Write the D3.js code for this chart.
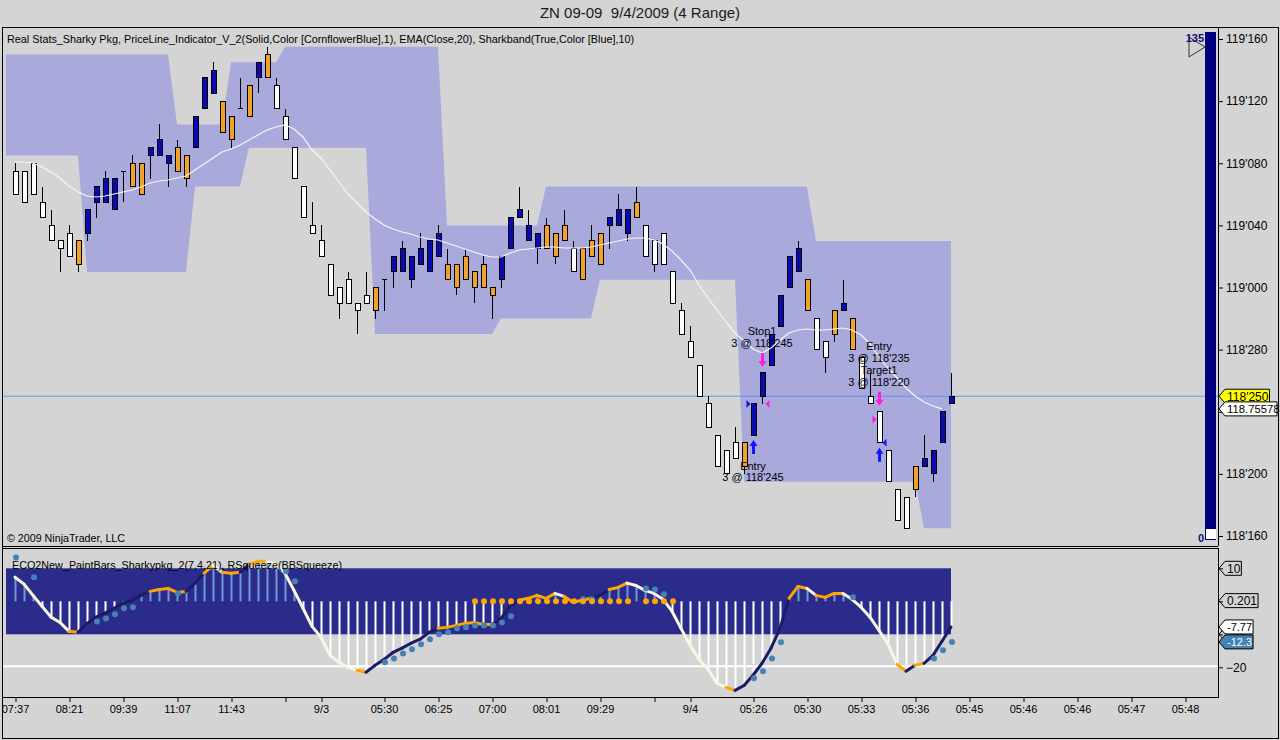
<!DOCTYPE html>
<html>
<head>
<meta charset="utf-8">
<script src="https://cdn.jsdelivr.net/npm/d3@7"></script>
<style>
body { margin: 0; background: #d4d4d4; }
svg { display: block; font-family: "Liberation Sans", Arial, sans-serif; }
</style>
</head>
<body>
<svg id="chart" width="1280" height="740"></svg>
<script>
// ZN 09-09, 4 range bars. Prices are quoted in 32nds like the chart does (119'075 = 119 + 7.5/32)
var open = [
  "119'075","119'075","119'080","119'055","119'040","119'030","119'035","119'015","119'035","119'055",
  "119'055","119'050","119'075","119'065","119'060","119'085","119'085","119'080","119'075","119'085",
  "119'090","119'115","119'125","119'120","119'110","119'115","119'110","119'135","119'135","119'130",
  "119'110","119'090","119'065","119'040","119'030","119'015","119'000","119'005","118'310","118'315",
  "118'305","119'005","119'010","119'010","119'005","119'015","119'010","119'020","119'015","119'015",
  "119'005","119'010","119'000","119'000","119'005","119'025","119'045","119'030","119'025","119'025",
  "119'035","119'030","119'025","119'025","119'020","119'015","119'040","119'040","119'035","119'045",
  "119'040","119'030","119'035","119'010","118'305","118'285","118'270","118'245","118'225","118'215",
  "118'220","118'205","118'225","118'250","118'270","118'295","119'000","119'010","119'005","118'300",
  "118'285","118'290","118'305","118'300","118'275","118'250","118'240","118'215","118'190","118'185",
  "118'190","118'205","118'200","118'220","118'245"];
var high = [
  "119'080","119'075","119'080","119'065","119'050","119'030","119'040","119'030","119'050","119'065",
  "119'075","119'070","119'075","119'085","119'080","119'090","119'105","119'085","119'095","119'085",
  "119'110","119'135","119'145","119'120","119'110","119'135","119'130","119'145","119'155","119'135",
  "119'115","119'090","119'065","119'055","119'040","119'015","119'000","119'010","118'310","119'010",
  "119'000","119'005","119'020","119'030","119'020","119'035","119'030","119'040","119'025","119'015",
  "119'025","119'010","119'020","119'000","119'020","119'045","119'065","119'050","119'035","119'045",
  "119'035","119'050","119'030","119'025","119'040","119'035","119'045","119'060","119'050","119'065",
  "119'040","119'030","119'035","119'010","118'310","118'295","118'270","118'250","118'225","118'215",
  "118'230","118'220","118'245","118'265","118'290","118'315","119'020","119'030","119'005","118'300",
  "118'285","118'305","119'005","118'300","118'275","118'265","118'240","118'215","118'190","118'185",
  "118'205","118'225","118'215","118'240","118'265"];
var low = [
  "119'060","119'055","119'060","119'045","119'030","119'010","119'020","119'010","119'030","119'045",
  "119'055","119'050","119'055","119'065","119'060","119'070","119'085","119'065","119'075","119'065",
  "119'090","119'115","119'125","119'100","119'090","119'115","119'110","119'125","119'135","119'115",
  "119'095","119'070","119'045","119'035","119'020","118'315","118'300","118'310","118'290","118'310",
  "118'300","118'305","119'000","119'010","119'000","119'015","119'010","119'020","119'005","118'315",
  "119'005","118'310","119'000","118'300","119'000","119'025","119'045","119'030","119'015","119'025",
  "119'015","119'030","119'010","119'005","119'020","119'015","119'025","119'040","119'030","119'045",
  "119'020","119'010","119'015","118'310","118'290","118'275","118'250","118'230","118'205","118'200",
  "118'210","118'200","118'225","118'245","118'270","118'295","119'000","119'010","118'305","118'280",
  "118'265","118'285","118'305","118'280","118'255","118'245","118'220","118'195","118'170","118'165",
  "118'185","118'205","118'195","118'220","118'245"];
var close = [
  "119'060","119'055","119'060","119'045","119'030","119'025","119'020","119'030","119'050","119'065",
  "119'070","119'070","119'075","119'080","119'080","119'090","119'095","119'085","119'090","119'070",
  "119'110","119'135","119'140","119'100","119'095","119'115","119'130","119'145","119'150","119'115",
  "119'095","119'070","119'045","119'035","119'020","118'315","118'310","118'310","118'305","118'310",
  "119'000","119'005","119'020","119'025","119'020","119'025","119'030","119'035","119'005","119'000",
  "119'020","119'000","119'015","118'315","119'020","119'045","119'050","119'040","119'035","119'040",
  "119'020","119'040","119'010","119'005","119'030","119'035","119'045","119'050","119'050","119'055",
  "119'020","119'015","119'015","118'310","118'290","118'275","118'250","118'230","118'205","118'200",
  "118'210","118'220","118'245","118'265","118'290","118'315","119'020","119'025","118'305","118'280",
  "118'275","118'305","118'310","118'280","118'255","118'245","118'220","118'195","118'170","118'165",
  "118'205","118'210","118'215","118'240","118'250"];
// paint bar state per bar: w = down, b = up, o = caution
var paint = ("wwwwwwwobbbbwoobbboobbboowobowwwwwwwwwwwowbbbbbboooooobbbbbooowooobbbo" +
             "wwwwwwwwwwwobbbbbbowwobowwwwwwobbbb").split("");

// EMA(Close,20), bars 1..104
var ema = [
  119.2525,119.2525,119.2505,119.2425,119.2324,119.2203,119.2042,119.1922,119.1841,119.1821,
  119.1841,119.1881,119.1922,119.1962,119.2022,119.2103,119.2143,119.2163,119.2203,119.2244,
  119.2364,119.2485,119.2606,119.2726,119.2787,119.2867,119.2968,119.3068,119.3169,119.3229,
  119.3270,119.3189,119.3028,119.2767,119.2606,119.2364,119.2123,119.1881,119.1700,119.1519,
  119.1378,119.1258,119.1177,119.1117,119.1076,119.1016,119.0976,119.0956,119.0895,119.0835,
  119.0775,119.0714,119.0654,119.0614,119.0614,119.0694,119.0755,119.0775,119.0795,119.0815,
  119.0815,119.0795,119.0795,119.0795,119.0815,119.0855,119.0895,119.0936,119.0976,119.0996,
  119.0996,119.0956,119.0875,119.0734,119.0553,119.0352,119.0050,118.9789,118.9547,118.9306,
  118.9085,118.8924,118.8763,118.8682,118.8783,118.8944,118.9085,118.9145,118.9165,118.9145,
  118.9145,118.9165,118.9185,118.9145,118.9044,118.8863,118.8602,118.8380,118.8179,118.7978,
  118.7817,118.7696,118.7616,118.75578];

// Sharkband(10), bars 0..105 (bar 0 sits just left of the first visible candle)
var bandUpper = [
  "119'150","119'150","119'150","119'150","119'150","119'150","119'150","119'150","119'150","119'150",
  "119'150","119'150","119'150","119'150","119'150","119'150","119'150","119'150","119'150","119'105",
  "119'105","119'105","119'105","119'105","119'105","119'145","119'145","119'145","119'145","119'145",
  "119'145","119'155","119'155","119'155","119'155","119'155","119'155","119'155","119'155","119'155",
  "119'155","119'155","119'155","119'155","119'155","119'155","119'155","119'155","119'155","119'040",
  "119'040","119'040","119'040","119'040","119'040","119'040","119'040","119'040","119'040","119'040",
  "119'065","119'065","119'065","119'065","119'065","119'065","119'065","119'065","119'065","119'065",
  "119'065","119'065","119'065","119'065","119'065","119'065","119'065","119'065","119'065","119'065",
  "119'065","119'065","119'065","119'065","119'065","119'065","119'065","119'065","119'065","119'065",
  "119'030","119'030","119'030","119'030","119'030","119'030","119'030","119'030","119'030","119'030",
  "119'030","119'030","119'030","119'030","119'030","119'030"];
var bandLower = [
  "119'085","119'085","119'085","119'085","119'085","119'085","119'085","119'085","119'085","119'010",
  "119'010","119'010","119'010","119'010","119'010","119'010","119'010","119'010","119'010","119'010",
  "119'010","119'065","119'065","119'065","119'065","119'065","119'065","119'090","119'090","119'090",
  "119'090","119'090","119'090","119'090","119'090","119'090","119'090","119'090","119'090","119'090",
  "119'090","118'290","118'290","118'290","118'290","118'290","118'290","118'290","118'290","118'290",
  "118'290","118'290","118'290","118'290","118'290","118'300","118'300","118'300","118'300","118'300",
  "118'300","118'300","118'300","118'300","118'300","118'300","119'005","119'005","119'005","119'005",
  "119'005","119'005","119'005","119'005","119'005","119'005","119'005","119'005","119'005","119'005",
  "119'005","119'005","118'195","118'195","118'195","118'195","118'195","118'195","118'195","118'195",
  "118'195","118'195","118'195","118'195","118'195","118'195","118'195","118'195","118'195","118'195",
  "118'195","118'195","118'165","118'165","118'165","118'165"];

// executions
var tradeBar = [83, 84, 97, 97];
var tradeAction = ["Buy", "Sell", "Sell", "Buy"];
var tradeName = ["Entry", "Stop1", "Entry", "Target1"];
var tradeQty = [3, 3, 3, 3];
var tradePrice = ["118'245", "118'245", "118'235", "118'220"];

// RSqueeze(BBSqueeze) panel, bars 1..105
var momentum = [
  7.3, 5.2, 1.8, -1.5, -4.8, -6.4, -9.1, -9.4, -6.7, -4.8,
  -3.6, -2.1, -0.6, 0.3, 1.8, 3.0, 3.6, 3.9, 2.7, 3.0,
  5.5, 8.5, 10.9, 8.8, 8.5, 8.8, 11.2, 12.1, 12.1, 11.2,
  8.5, 3.3, -2.1, -7.6, -10.9, -16.4, -18.5, -20.0, -20.9, -21.5,
  -19.4, -17.6, -15.5, -14.2, -12.7, -11.5, -9.4, -8.2, -7.9, -7.3,
  -6.7, -6.4, -7.0, -7.0, -5.2, -1.5, 0.3, 0.9, 1.8, 0.9,
  2.4, 1.5, -0.3, 0.3, 0.9, 1.8, 3.6, 4.2, 5.5, 4.8,
  3.3, 2.4, 0.6, -3.0, -8.2, -13.3, -17.6, -20.6, -24.8, -26.1,
  -27.0, -25.5, -22.4, -18.8, -14.2, -8.2, 0.9, 4.5, 3.9, 1.8,
  1.2, 2.4, 2.4, 0.6, -1.8, -4.8, -8.8, -13.0, -19.1, -21.2,
  -19.4, -18.8, -16.4, -12.1, -7.77];
var signalDots = [
  13.3, null, 7.3, null, null, null, null, null, null, -6.1,
  -5.2, -3.9, -2.1, -1.8, null, null, null, null, 2.4, null,
  null, null, null, null, null, null, null, null, null, null,
  9.1, 6.1, null, null, null, null, null, null, null, null,
  null, -18.5, -17.3, -15.8, -14.5, -13.0, -11.5, -10.0, -9.4, -8.2,
  -7.9, -7.3, -7.3, -7.3, -6.4, -4.5, null, null, null, null,
  null, null, null, 0.6, 0.6, null, null, null, null, null,
  3.9, 3.6, 2.1, null, null, null, null, null, null, null,
  null, null, -23.3, -21.2, -17.3, -12.4, null, null, null, null,
  null, null, null, 1.2, null, null, null, null, null, null,
  null, null, -17.3, -14.8, -12.3];
var squeezeBars = [52, 53, 54, 55, 56, 57, 58, 59, 60, 61, 62, 63, 64, 65, 66, 67, 68, 69, 71, 72, 73, 74];
var squeezeBand = [10, -10];
var squeezeValue = 0.201;

// time axis
var xTickBars = [1, 7, 13, 19, 25, 31, 35, 42, 48, 54, 60, 66, 72, 76, 83, 89, 95, 101, 107, 113, 119, 125, 131];
var xTickLabels = ["07:37", "08:21", "09:39", "11:07", "11:43", "", "9/3", "05:30", "06:25", "07:00", "08:01", "09:29",
                   "", "9/4", "05:26", "05:30", "05:33", "05:36", "05:45", "05:46", "05:46", "05:47", "05:48"];
var priceTicks = [118.5, 118.625, 118.75, 118.875, 119, 119.125, 119.25, 119.375, 119.5];
var lowTicks = [10, 0, -10, -20];
var statsMax = 135, statsMin = 0;

function fromQuote(q) {
  var p = q.split("'");
  return +p[0] + (+p[1]) / 320;
}
function toQuote(v) {
  var whole = Math.floor(v + 1e-9);
  var f = Math.round((v - whole) * 320);
  if (f >= 320) { whole += 1; f -= 320; }
  return whole + "'" + String(f).padStart(3, "0");
}

var svg = d3.select("#chart");
var plotLeft = 2, plotRight = 1218, frameRight = 1278;
var mainTop = 27, mainBottom = 546, lowTop = 548, lowBottom = 697, frameBottom = 738;

var x = d3.scaleLinear().domain([1, 131]).range([15, 1185]);
var y = d3.scaleLinear().domain([118.5, 119.5]).range([536, 39]);
var yLow = d3.scaleLinear().domain([-20, 10]).range([667.3, 568.3]);

var bars = open.map(function(o, i) {
  return { n: i + 1, o: fromQuote(o), h: fromQuote(high[i]), l: fromQuote(low[i]), c: fromQuote(close[i]), p: paint[i] };
});
var paintColor = { w: "#ffffff", b: "#0a0ab4", o: "#f2a22a" };
var lastPrice = bars[bars.length - 1].c;
var lastEma = ema[ema.length - 1];

svg.append("rect").attr("width", 1280).attr("height", 740).attr("fill", "#d4d4d4");

var defs = svg.append("defs");
defs.append("clipPath").attr("id", "clipMain").append("rect")
    .attr("x", plotLeft).attr("y", mainTop).attr("width", plotRight - plotLeft).attr("height", mainBottom - mainTop);
defs.append("clipPath").attr("id", "clipLow").append("rect")
    .attr("x", plotLeft).attr("y", lowTop).attr("width", plotRight - plotLeft).attr("height", lowBottom - lowTop);

// title
svg.append("text")
    .attr("x", 640).attr("y", 18).attr("text-anchor", "middle")
    .attr("font-size", 15).attr("fill", "#1a1a1a")
    .style("white-space", "pre")
    .text("ZN 09-09  9/4/2009 (4 Range)");

// ---------- price panel ----------
var main = svg.append("g").attr("clip-path", "url(#clipMain)");

var bandArea = d3.area()
    .x(function(d, i) { return x(i); })
    .y0(function(d) { return y(d[1]); })
    .y1(function(d) { return y(d[0]); });
main.append("path")
    .datum(d3.zip(bandUpper.map(fromQuote), bandLower.map(fromQuote)))
    .attr("d", bandArea)
    .attr("fill", "#0000ff")
    .attr("fill-opacity", 0.2);

main.append("line")
    .attr("x1", plotLeft).attr("x2", plotRight)
    .attr("y1", y(lastPrice)).attr("y2", y(lastPrice))
    .attr("stroke", "cornflowerblue").attr("stroke-width", 1);

var candles = main.append("g").attr("shape-rendering", "crispEdges");
candles.selectAll(".wick")
    .data(bars)
    .enter().append("line")
    .attr("class", "wick")
    .attr("x1", function(d) { return x(d.n) + 0.5; })
    .attr("x2", function(d) { return x(d.n) + 0.5; })
    .attr("y1", function(d) { return y(d.h); })
    .attr("y2", function(d) { return y(d.l); })
    .attr("stroke", "#000");
candles.selectAll(".body")
    .data(bars.filter(function(d) { return d.o !== d.c; }))
    .enter().append("rect")
    .attr("class", "body")
    .attr("x", function(d) { return x(d.n) - 2; })
    .attr("width", 5)
    .attr("y", function(d) { return y(Math.max(d.o, d.c)); })
    .attr("height", function(d) { return Math.abs(y(d.o) - y(d.c)); })
    .attr("fill", function(d) { return paintColor[d.p]; })
    .attr("stroke", "#000");
candles.selectAll(".doji")
    .data(bars.filter(function(d) { return d.o === d.c; }))
    .enter().append("line")
    .attr("class", "doji")
    .attr("x1", function(d) { return x(d.n) - 2; })
    .attr("x2", function(d) { return x(d.n) + 3; })
    .attr("y1", function(d) { return y(d.o); })
    .attr("y2", function(d) { return y(d.o); })
    .attr("stroke", "#000");

var emaLine = d3.line()
    .x(function(d, i) { return x(i + 1); })
    .y(function(d) { return y(d); });
main.append("path")
    .datum(ema)
    .attr("d", emaLine)
    .attr("fill", "none")
    .attr("stroke", "#f6f6f6")
    .attr("stroke-width", 1.2);

// executions: arrows, fill markers and text
var trades = tradeBar.map(function(b, i) {
  return { bar: bars[b - 1], action: tradeAction[i], name: tradeName[i], qty: tradeQty[i], price: fromQuote(tradePrice[i]), quote: tradePrice[i] };
});
var buyColor = "#1414ff", sellColor = "#ff1ee0";

trades.forEach(function(t) {
  var cx = x(t.bar.n) + 0.5;
  var path;
  if (t.action === "Buy") {
    var y0 = y(t.bar.l) + 5;
    path = "M" + cx + "," + y0 + "L" + (cx + 4) + "," + (y0 + 6) + "L" + (cx + 1.5) + "," + (y0 + 6) +
           "L" + (cx + 1.5) + "," + (y0 + 14) + "L" + (cx - 1.5) + "," + (y0 + 14) + "L" + (cx - 1.5) + "," + (y0 + 6) +
           "L" + (cx - 4) + "," + (y0 + 6) + "Z";
  } else {
    var y1 = y(t.bar.h) - 6;
    path = "M" + cx + "," + y1 + "L" + (cx + 4) + "," + (y1 - 6) + "L" + (cx + 1.5) + "," + (y1 - 6) +
           "L" + (cx + 1.5) + "," + (y1 - 14) + "L" + (cx - 1.5) + "," + (y1 - 14) + "L" + (cx - 1.5) + "," + (y1 - 6) +
           "L" + (cx - 4) + "," + (y1 - 6) + "Z";
  }
  main.append("path").attr("d", path).attr("fill", t.action === "Buy" ? buyColor : sellColor);

  var py = y(t.price);
  var tri = t.name === "Entry"
    ? [[cx - 7, py - 4], [cx - 7, py + 4], [cx - 3, py]]
    : [[cx + 7, py - 4], [cx + 7, py + 4], [cx + 3, py]];
  main.append("path").attr("d", d3.line()(tri) + "Z").attr("fill", t.action === "Buy" ? buyColor : sellColor);
});

d3.groups(trades, function(t) { return t.bar.n; }).forEach(function(g) {
  var bar = g[1][0].bar;
  var lines = [];
  g[1].forEach(function(t) { lines.push(t.name); lines.push(t.qty + " @ " + t.quote); });
  var above = g[1].some(function(t) { return t.action === "Sell"; });
  var base = above ? y(bar.h) - 26 - 12 * (lines.length - 1) : y(bar.l) + 35;
  lines.forEach(function(s, k) {
    main.append("text")
        .attr("x", x(bar.n)).attr("y", base + k * (above ? 12 : 11))
        .attr("text-anchor", "middle").attr("font-size", 11).attr("fill", "#000")
        .text(s);
  });
});

// Real Stats gauge beside the price axis
main.append("rect").attr("x", 1205).attr("y", 32).attr("width", 11).attr("height", 508).attr("fill", "#00007e");
main.append("rect").attr("x", 1206).attr("y", 529).attr("width", 10).attr("height", 10).attr("fill", "#ffffff");
main.append("path").attr("d", "M1189,37L1189,57L1205,47Z").attr("fill", "none").attr("stroke", "#333");
main.append("text").attr("x", 1204).attr("y", 42).attr("text-anchor", "end")
    .attr("font-size", 11).attr("font-weight", "bold").attr("fill", "#101070").text(statsMax);
main.append("text").attr("x", 1204).attr("y", 542).attr("text-anchor", "end")
    .attr("font-size", 11).attr("font-weight", "bold").attr("fill", "#101070").text(statsMin);

main.append("text")
    .attr("x", 7).attr("y", 43).attr("font-size", 11).attr("fill", "#000")
    .attr("textLength", 627).attr("lengthAdjust", "spacingAndGlyphs")
    .text("Real Stats_Sharky Pkg, PriceLine_Indicator_V_2(Solid,Color [CornflowerBlue],1), EMA(Close,20), Sharkband(True,Color [Blue],10)");
main.append("text")
    .attr("x", 7).attr("y", 542).attr("font-size", 11).attr("fill", "#000")
    .attr("textLength", 118).attr("lengthAdjust", "spacingAndGlyphs")
    .text("\u00a9 2009 NinjaTrader, LLC");

// price axis; a tick label sitting under a value marker is left out
function underMarker(yy, markerYs) {
  return markerYs.some(function(m) { return Math.abs(m - yy) < 12; });
}
var priceMarkerYs = [y(lastPrice), y(lastEma)];
var yAxis = svg.append("g")
    .attr("transform", "translate(" + plotRight + ",0)")
    .call(d3.axisRight(y).tickValues(priceTicks).tickFormat(toQuote).tickSize(5).tickSizeOuter(0));
yAxis.attr("font-family", null).attr("font-size", 12);
yAxis.select(".domain").remove();
yAxis.selectAll("text").attr("x", 8);
yAxis.selectAll(".tick").filter(function(d) { return underMarker(y(d), priceMarkerYs); }).select("text").remove();

function marker(yy, label, fill, color, size) {
  var g = svg.append("g");
  var t = g.append("text").attr("x", 1227).attr("y", yy + 4.5).attr("font-size", size || 12).attr("fill", color).text(label);
  var w = t.node().getComputedTextLength() + 3;
  g.insert("path", "text")
      .attr("d", "M1219," + yy + "L1225," + (yy - 7) + "H" + Math.min(1225 + w, 1277) + "V" + (yy + 7) + "H1225Z")
      .attr("fill", fill).attr("stroke", "#000").attr("stroke-width", 1);
}
marker(y(lastPrice), toQuote(lastPrice), "#ffff00", "#000");
marker(y(lastEma), d3.format(".5f")(lastEma), "#ffffff", "#000", 11.3);

// ---------- squeeze panel ----------
var lowPanel = svg.append("g").attr("clip-path", "url(#clipLow)");

lowPanel.append("rect")
    .attr("x", x(0)).attr("width", x(bars.length) - x(0))
    .attr("y", yLow(squeezeBand[0])).attr("height", yLow(squeezeBand[1]) - yLow(squeezeBand[0]))
    .attr("fill", "#2b2b8c");

lowPanel.append("line")
    .attr("x1", plotLeft).attr("x2", plotRight)
    .attr("y1", yLow(-20) - 1).attr("y2", yLow(-20) - 1)
    .attr("stroke", "#ffffff").attr("stroke-width", 2);

lowPanel.selectAll(".hist")
    .data(momentum)
    .enter().append("line")
    .attr("class", "hist")
    .attr("x1", function(d, i) { return x(i + 1) + 0.5; })
    .attr("x2", function(d, i) { return x(i + 1) + 0.5; })
    .attr("y1", yLow(0))
    .attr("y2", function(d) { return yLow(d); })
    .attr("stroke", function(d) { return d >= 0 ? "#6d9cd4" : "#ffffff"; })
    .attr("stroke-width", 2);

function segColor(i) {
  var d = momentum[i] - momentum[i - 1];
  var next = i + 1 < momentum.length ? momentum[i + 1] - momentum[i] : d;
  if (Math.abs(d) < 0.7 || (d > 0) !== (next > 0)) return "#ffa500";
  return d > 0 ? "#1c1c66" : "#fbf5e4";
}
lowPanel.selectAll(".seg")
    .data(d3.range(1, momentum.length))
    .enter().append("line")
    .attr("class", "seg")
    .attr("x1", function(i) { return x(i); })
    .attr("y1", function(i) { return yLow(momentum[i - 1]); })
    .attr("x2", function(i) { return x(i + 1); })
    .attr("y2", function(i) { return yLow(momentum[i]); })
    .attr("stroke", segColor)
    .attr("stroke-width", 3)
    .attr("stroke-linecap", "round");

lowPanel.selectAll(".dot")
    .data(signalDots.map(function(v, i) { return { n: i + 1, v: v }; }).filter(function(d) { return d.v !== null; }))
    .enter().append("circle")
    .attr("class", "dot")
    .attr("cx", function(d) { return x(d.n) + 1; })
    .attr("cy", function(d) { return yLow(d.v); })
    .attr("r", 3)
    .attr("fill", "steelblue");

lowPanel.selectAll(".sqz")
    .data(squeezeBars)
    .enter().append("circle")
    .attr("class", "sqz")
    .attr("cx", function(d) { return x(d) + 1; })
    .attr("cy", yLow(0))
    .attr("r", 3)
    .attr("fill", "#ffa500");

lowPanel.append("text")
    .attr("x", 12).attr("y", 569).attr("font-size", 11).attr("fill", "#000")
    .attr("textLength", 330).attr("lengthAdjust", "spacingAndGlyphs")
    .text("ECO2New_PaintBars_Sharkypkg_2(7,4,21), RSqueeze(BBSqueeze)");

var lastMom = momentum[momentum.length - 1];
var lastDot = signalDots[signalDots.length - 1];
var lowMarkerYs = [yLow(squeezeBand[0]), yLow(squeezeValue), yLow(squeezeBand[1])];
var lowAxis = svg.append("g")
    .attr("transform", "translate(" + plotRight + ",0)")
    .call(d3.axisRight(yLow).tickValues(lowTicks).tickSize(5).tickSizeOuter(0));
lowAxis.attr("font-family", null).attr("font-size", 12);
lowAxis.select(".domain").remove();
lowAxis.selectAll("text").attr("x", 8);
lowAxis.selectAll(".tick").filter(function(d) { return underMarker(yLow(d), lowMarkerYs); }).select("text").remove();

// value markers; the band's lower one is mostly covered by the last values, as on the chart
marker(yLow(squeezeBand[0]), String(squeezeBand[0]), "none", "#000");
marker(yLow(squeezeValue), String(squeezeValue), "none", "#000");
marker(yLow(squeezeBand[1]), String(squeezeBand[1]), "none", "#000", 11);
marker(yLow(lastMom), String(lastMom), "#ffffff", "#000", 11);
marker(yLow(lastDot), String(lastDot), "steelblue", "#ffffff", 11);

// time axis
var xAxis = svg.append("g")
    .attr("transform", "translate(0," + lowBottom + ")")
    .call(d3.axisBottom(x).tickValues(xTickBars).tickFormat(function(d, i) { return xTickLabels[i]; }).tickSize(5).tickSizeOuter(0));
xAxis.attr("font-family", null).attr("font-size", 11);
xAxis.select(".domain").remove();
xAxis.selectAll("line").attr("transform", "translate(0.5,0)");

// frames
var frames = svg.append("g").attr("fill", "none").attr("stroke", "#000").attr("shape-rendering", "crispEdges");
frames.append("rect").attr("x", plotLeft + 0.5).attr("y", mainTop + 0.5).attr("width", frameRight - plotLeft).attr("height", frameBottom - mainTop);
frames.append("line").attr("x1", plotRight + 0.5).attr("x2", plotRight + 0.5).attr("y1", mainTop).attr("y2", mainBottom);
frames.append("line").attr("x1", plotLeft).attr("x2", plotRight).attr("y1", mainBottom + 0.5).attr("y2", mainBottom + 0.5);
frames.append("rect").attr("x", plotLeft + 0.5).attr("y", lowTop + 0.5).attr("width", plotRight - plotLeft).attr("height", lowBottom - lowTop);
</script>
</body>
</html>
